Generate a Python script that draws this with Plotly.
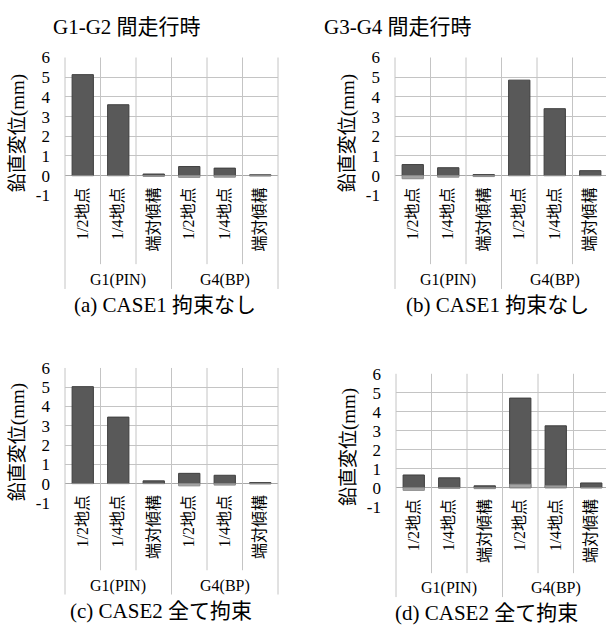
import plotly.graph_objects as go

# Measurement points (inner categories) and girders (outer groups)
points = ["1/2地点", "1/4地点", "端対傾構"]
girders = ["G1(PIN)", "G4(BP)"]
tick_labels = points * 2
y_ticks = [-1, 0, 1, 2, 3, 4, 5, 6]

# Vertical displacement (mm): maximum and minimum for each point
a_max = [5.13, 3.60, 0.08, 0.46, 0.38, 0.04]
a_min = [0.00, 0.00, -0.04, -0.09, -0.08, -0.02]
b_max = [0.56, 0.40, 0.05, 4.85, 3.40, 0.25]
b_min = [-0.16, -0.08, -0.05, 0.00, 0.00, 0.00]
c_max = [5.03, 3.45, 0.14, 0.53, 0.43, 0.05]
c_min = [0.00, 0.00, 0.00, -0.12, -0.08, -0.02]
d_max = [0.67, 0.52, 0.10, 4.72, 3.26, 0.25]
d_min = [-0.14, -0.03, -0.05, 0.18, 0.10, 0.00]

captions = ["(a) CASE1 拘束なし", "(b) CASE1 拘束なし",
            "(c) CASE2 全て拘束", "(d) CASE2 全て拘束"]
column_titles = ["G1-G2 間走行時", "G3-G4 間走行時"]
y_title = "鉛直変位(mm)"

W, H = 606, 637
FONT = "Liberation Serif, 'Noto Sans CJK JP', serif"
DARK = "#595959"
LIGHT = "#a3a3a3"
GRID = "#c4c4c4"

# panel boxes in pixels: left, right, top, bottom
boxes = [(65, 278, 50, 192), (395, 608, 50, 192),
         (65, 278, 370, 509), (396, 609, 376, 513)]
data_max = [a_max, b_max, c_max, d_max]
data_min = [a_min, b_min, c_min, d_min]
caption_y = [305, 305, 620, 623]
caption_x = [165, 497, 161, 486]


def label(**kw):
    kw.setdefault("xanchor", "center")
    kw.setdefault("yanchor", "middle")
    kw.setdefault("showarrow", False)
    return kw


fig = go.Figure()
shapes = []
annotations = []
n_cat = len(tick_labels)
xs = list(range(n_cat))

for i in range(4):
    n = "" if i == 0 else str(i + 1)
    left, right, top, bottom = boxes[i]
    xdom = [left / W, min(right / W, 1.0)]
    # the right-hand panels run slightly past the page edge
    x_hi = -0.5 + n_cat * (min(right, W) - left) / (right - left)
    ydom = [1 - bottom / H, 1 - top / H]

    fig.add_trace(go.Bar(x=xs, y=data_max[i], width=0.6,
                         marker=dict(color=DARK, line=dict(color="#3f3f3f", width=1)),
                         xaxis="x" + n, yaxis="y" + n, showlegend=False))
    fig.add_trace(go.Bar(x=xs, y=data_min[i], width=0.6,
                         marker=dict(color=LIGHT, line=dict(color="#8a8a8a", width=1)),
                         xaxis="x" + n, yaxis="y" + n, showlegend=False))

    fig.update_layout(**{
        "xaxis" + n: dict(domain=xdom, range=[-0.5, x_hi], anchor="y" + n,
                          tickmode="array", tickvals=xs, ticktext=tick_labels,
                          tickangle=-90, showgrid=False, zeroline=False,
                          showline=False, ticks="", ticklabelstandoff=-12,
                          tickfont=dict(family=FONT, size=16, color="#000")),
        "yaxis" + n: dict(domain=ydom, range=[-1, 6], anchor="x" + n,
                          tickmode="array", tickvals=y_ticks,
                          ticktext=[str(v) for v in y_ticks],
                          showgrid=True, gridcolor=GRID, gridwidth=1,
                          zeroline=True, zerolinecolor="#a8a8a8", zerolinewidth=1,
                          showline=False, ticks="", ticklabelstandoff=14,
                          tickfont=dict(family=FONT, size=17, color="#000")),
    })

    xd = "x" + n + " domain"
    yd = "y" + n + " domain"
    span = x_hi + 0.5
    # vertical divider lines through the plot and category label rows
    for k in range(n_cat + 1):
        xf = k / span
        if xf > 1.0001:
            continue
        y0 = -0.68 if k % 3 == 0 else -0.5
        shapes.append(dict(type="line", xref=xd, yref=yd, x0=xf, x1=xf,
                           y0=y0, y1=1, line=dict(color=GRID, width=1)))
    # girder group labels
    for g, name in enumerate(girders):
        annotations.append(label(xref=xd, yref=yd, x=(3 * g + 1.5) / span,
                                 y=-0.615, text=name,
                                 font=dict(family=FONT, size=16, color="#000")))
    # y-axis title
    annotations.append(label(xref="paper", yref="paper", x=(left - 47) / W,
                             y=1 - (top + bottom + 14) / 2 / H, text=y_title,
                             textangle=-90,
                             font=dict(family=FONT, size=19, color="#000")))
    # panel caption
    annotations.append(label(xref="paper", yref="paper", x=caption_x[i] / W,
                             y=1 - caption_y[i] / H, text=captions[i],
                             font=dict(family=FONT, size=21, color="#000")))

for j, t in enumerate(column_titles):
    annotations.append(label(xref="paper", yref="paper", x=[127, 398][j] / W,
                             y=1 - 19 / H, text=t,
                             font=dict(family=FONT, size=21, color="#000")))

fig.update_layout(width=W, height=H, margin=dict(l=0, r=0, t=0, b=0),
                  barmode="overlay", bargap=0.4,
                  paper_bgcolor="white", plot_bgcolor="white",
                  shapes=shapes, annotations=annotations)

fig.write_html("out.html")
